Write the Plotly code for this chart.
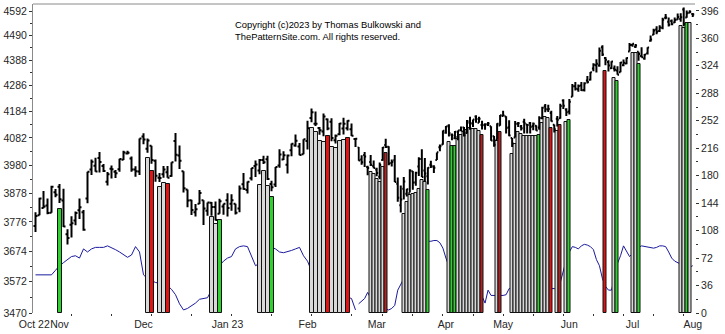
import numpy as np
import pandas as pd
import plotly.graph_objects as go

# NYSE sessions, 24 Oct 2022 .. 1 Aug 2023
holidays = pd.to_datetime(["2022-11-24", "2022-12-26", "2023-01-02", "2023-01-16",
                           "2023-02-20", "2023-04-07", "2023-05-29", "2023-06-19",
                           "2023-07-04"])
sessions = pd.bdate_range("2022-10-24", "2023-08-01")
sessions = sessions[~sessions.isin(holidays)]

# S&P 500 daily bars
open_ = [3762, 3799, 3825, 3834, 3808, 3881, 3901, 3852, 3733, 3766, 3781, 3817, 3810, 3859, 3964, 3978,
         4007, 3977, 3919, 3967, 3956, 3965, 4000, 4023, 4005, 3964, 3957, 4087, 4041, 4052, 3996, 3934,
         3947, 3954, 3940, 4070, 4016, 3958, 3891, 3853, 3810, 3840, 3853, 3815, 3844, 3829, 3805, 3830,
         3853, 3840, 3840, 3823, 3910, 3889, 3932, 3977, 3960, 3999, 4002, 3911, 3909, 3979, 4001, 3982,
         4036, 4053, 4050, 4021, 4070, 4158, 4136, 4120, 4106, 4153, 4144, 4073, 4096, 4118, 4119, 4115,
         4078, 4046, 4001, 4018, 3973, 3992, 3977,
         3964, 3938, 3999, 4055, 4049, 3988, 3998, 3912, 3835, 3894, 3876, 3878, 3958, 3917, 3975, 4003,
         3960, 3939, 3982, 3974, 3999, 4047, 4057, 4102, 4128, 4094, 4081, 4085, 4111, 4122, 4101, 4140,
         4137, 4164, 4140, 4131, 4132, 4133, 4126, 4088, 4075, 4129, 4166, 4164, 4123, 4082, 4084, 4136,
         4125, 4144, 4133, 4139, 4127, 4128, 4122, 4157, 4204, 4191, 4177, 4132, 4155, 4157, 4226, 4191,
         4183, 4241, 4282, 4271, 4285, 4268, 4305, 4308, 4354, 4367, 4366, 4440, 4396, 4380, 4355, 4354,
         4345, 4338, 4367, 4374, 4423, 4450, 4442, 4422, 4404, 4394, 4415, 4467, 4492, 4514, 4508, 4521,
         4563, 4546, 4550, 4543, 4556, 4558, 4598, 4565, 4585, 4579]
high = [3810, 3862, 3886, 3859, 3905, 3893, 3911, 3894, 3750, 3796, 3813, 3859, 3818, 3956, 4001, 4008,
        4029, 3984, 3955, 3979, 3962, 4004, 4034, 4034, 4012, 3976, 4080, 4100, 4080, 4052, 4001, 3951,
        3977, 3977, 3991, 4101, 4053, 3958, 3891, 3854, 3839, 3889, 3853, 3845, 3846, 3848, 3858, 3840,
        3878, 3874, 3840, 3906, 3951, 3920, 3970, 3997, 4003, 4015, 4015, 3923, 3973, 4039, 4032, 4020,
        4061, 4095, 4063, 4077, 4148, 4195, 4183, 4124, 4176, 4156, 4157, 4095, 4139, 4159, 4149, 4137,
        4081, 4048, 4017, 4029, 3978, 4018, 3997,
        3971, 3990, 4048, 4079, 4051, 4001, 4018, 3935, 3906, 3937, 3894, 3965, 3959, 3956, 4009, 4039,
        4007, 3972, 3996, 3980, 4027, 4057, 4110, 4127, 4134, 4099, 4108, 4110, 4125, 4124, 4150, 4163,
        4152, 4169, 4163, 4148, 4138, 4143, 4126, 4089, 4138, 4170, 4186, 4165, 4149, 4082, 4147, 4143,
        4131, 4155, 4133, 4143, 4141, 4130, 4165, 4202, 4212, 4210, 4186, 4133, 4166, 4213, 4231, 4196,
        4232, 4291, 4299, 4289, 4299, 4298, 4323, 4339, 4375, 4391, 4439, 4448, 4400, 4387, 4383, 4366,
        4363, 4380, 4390, 4398, 4458, 4456, 4454, 4422, 4440, 4412, 4440, 4489, 4517, 4528, 4532, 4563,
        4579, 4565, 4556, 4564, 4581, 4582, 4607, 4594, 4595, 4584]
low = [3741, 3799, 3824, 3803, 3808, 3863, 3843, 3758, 3698, 3722, 3764, 3786, 3745, 3842, 3944, 3956,
       3953, 3955, 3906, 3931, 3933, 3956, 3999, 4020, 3956, 3938, 3944, 4058, 4026, 3985, 3919, 3918,
       3934, 3934, 3938, 3994, 3966, 3880, 3828, 3800, 3795, 3839, 3765, 3798, 3798, 3781, 3805, 3801,
       3795, 3815, 3802, 3810, 3890, 3877, 3924, 3937, 3947, 3984, 3926, 3885, 3900, 3971, 3999, 3949,
       4013, 4049, 4017, 4021, 4038, 4142, 4127, 4094, 4088, 4111, 4069, 4061, 4092, 4095, 4110, 4089,
       4048, 3996, 3982, 3973, 3943, 3977, 3969,
       3939, 3928, 3996, 4044, 3980, 3975, 3918, 3847, 3809, 3855, 3866, 3880, 3890, 3905, 3940, 3937,
       3919, 3909, 3970, 3951, 3999, 4032, 4056, 4098, 4087, 4073, 4077, 4073, 4108, 4087, 4099, 4113,
       4124, 4140, 4140, 4114, 4113, 4127, 4071, 4049, 4075, 4128, 4164, 4099, 4088, 4048, 4084, 4124,
       4110, 4099, 4099, 4099, 4111, 4109, 4113, 4153, 4180, 4181, 4145, 4103, 4125, 4155, 4193, 4166,
       4172, 4241, 4266, 4261, 4264, 4262, 4293, 4305, 4342, 4337, 4361, 4404, 4367, 4341, 4352, 4341,
       4328, 4338, 4363, 4371, 4423, 4442, 4437, 4385, 4398, 4389, 4410, 4463, 4491, 4494, 4504, 4515,
       4557, 4527, 4532, 4541, 4555, 4547, 4528, 4563, 4582, 4567]
close = [3797, 3859, 3830, 3807, 3901, 3872, 3856, 3760, 3720, 3771, 3807, 3828, 3749, 3956, 3993, 3957,
         3992, 3959, 3947, 3965, 3950, 4003, 4027, 4026, 3964, 3958, 4080, 4076, 4072, 3999, 3941, 3933,
         3964, 3934, 3991, 4019, 3996, 3896, 3852, 3818, 3821, 3879, 3823, 3845, 3829, 3783, 3849, 3840,
         3825, 3853, 3808, 3895, 3893, 3919, 3970, 3983, 3999, 3991, 3929, 3899, 3973, 4020, 4017, 4016,
         4060, 4071, 4018, 4077, 4119, 4180, 4136, 4111, 4164, 4118, 4082, 4090, 4137, 4136, 4148, 4090,
         4079, 3997, 3991, 4012, 3970, 3982, 3970,
         3951, 3981, 4046, 4048, 3986, 3992, 3918, 3862, 3855, 3920, 3892, 3960, 3917, 3952, 4003, 3937,
         3949, 3971, 3978, 3971, 4028, 4051, 4109, 4125, 4101, 4091, 4105, 4110, 4109, 4092, 4146, 4138,
         4152, 4154, 4155, 4130, 4134, 4137, 4072, 4056, 4136, 4169, 4168, 4120, 4091, 4061, 4136, 4138,
         4119, 4138, 4131, 4124, 4136, 4110, 4158, 4198, 4192, 4193, 4146, 4115, 4151, 4205, 4206, 4180,
         4221, 4282, 4273, 4283, 4267, 4294, 4299, 4338, 4369, 4373, 4426, 4410, 4389, 4366, 4382, 4348,
         4328, 4378, 4377, 4396, 4450, 4455, 4447, 4412, 4399, 4410, 4439, 4472, 4510, 4505, 4522, 4555,
         4565, 4534, 4536, 4554, 4567, 4566, 4537, 4582, 4589, 4577]

# Oscillator plotted against the right-hand scale
osc = [50, 50, 50, 50, 50, 56, 62, 66, 70, 74, 75, 72, 84, 80, 84, 86,
       86, 86, 88, 86, 83, 80, 76, 73, 76, 87, 80, 50, 45, 42, 40, 39,
       38, 36, 31, 24, 12, 4, 6, 9, 13, 18, 19, 20, 30, 45, 62, 68,
       72, 74, 84, 87, 88, 87, 75, 62, 65, 72, 80, 86, 84, 80, 79, 80,
       82, 84, 86, 75, 68, 55, 45, 38, 33, 30, 28, 26, 25, 23, 20, 19,
       4,
       12, 15, 19, 27, 20, 12, 8, 7, 7, 6, 4, 6, 10, 30, 37,
       45, 55, 65, 75, 82, 88, 92, 94, 94,
       94, 95, 95, 92, 85, 72,
       60, 50, 42, 36, 32, 29, 27, 25, 24, 23, 22, 22,
       13, 30, 23, 23, 23, 23, 23, 24, 32,
       32, 32, 32, 32, 32, 32, 32, 32, 32, 32, 32, 32, 32, 32,
       32, 31,
       40, 55, 70, 80,
       87, 86, 84, 88, 90, 89, 87, 83, 70, 62, 45, 35, 30, 30, 45, 65, 75, 88, 80, 74,
       78, 82, 86,
       88, 87, 86, 86, 85, 86, 88, 88, 87, 80, 72, 68,
       66, 64, 62, 62, 60, 62]

# Highlighted sessions: date, top of the column, colour class
mark_dates = ["2022-11-01",
              "2022-12-02", "2022-12-05", "2022-12-07", "2022-12-08", "2022-12-09",
              "2022-12-27", "2022-12-28", "2022-12-29",
              "2023-01-13", "2023-01-17", "2023-01-18", "2023-01-19",
              "2023-02-02", "2023-02-03", "2023-02-06", "2023-02-07", "2023-02-08",
              "2023-02-09", "2023-02-10", "2023-02-13", "2023-02-14", "2023-02-15",
              "2023-02-27", "2023-02-28", "2023-03-01", "2023-03-02", "2023-03-03", "2023-03-06",
              "2023-03-14", "2023-03-15", "2023-03-16", "2023-03-17", "2023-03-20",
              "2023-03-21", "2023-03-22", "2023-03-23", "2023-03-24",
              "2023-04-04", "2023-04-05", "2023-04-06", "2023-04-10", "2023-04-11",
              "2023-04-12", "2023-04-13", "2023-04-14", "2023-04-17", "2023-04-18",
              "2023-04-19", "2023-04-20",
              "2023-04-27", "2023-04-28",
              "2023-05-04", "2023-05-05", "2023-05-08", "2023-05-09", "2023-05-10",
              "2023-05-11", "2023-05-12", "2023-05-15", "2023-05-16", "2023-05-17",
              "2023-05-18", "2023-05-19", "2023-05-22", "2023-05-23",
              "2023-05-25", "2023-05-26", "2023-05-31", "2023-06-01",
              "2023-06-20", "2023-06-23", "2023-06-26",
              "2023-07-03", "2023-07-05", "2023-07-06",
              "2023-07-26", "2023-07-27", "2023-07-28", "2023-07-31"]
mark_tops = [3823,
             4007, 3960, 3901, 3916, 3912,
             3792, 3770, 3782,
             3907, 3960, 3905, 3864,
             4119, 4103, 4070, 4066, 4089, 4047, 4044, 4070, 4074, 4081,
             3955, 3948, 3930, 3918, 3975, 4025,
             3805, 3847, 3870, 3876, 3880, 3894, 3924, 3918, 3888,
             4066, 4051, 4051, 4077, 4092, 4103, 4111, 4119, 4115, 4115, 4110, 4092,
             4071, 4103,
             4021, 4058, 4103, 4096, 4089, 4089, 4089, 4089, 4089, 4092,
             4140, 4161, 4157, 4119,
             4107, 4130, 4142, 4149,
             4345, 4317, 4305,
             4418, 4418, 4373,
             4529, 4521, 4541, 4541]
mark_kind = ["up",
             "flat", "down", "flat", "flat", "down",
             "flat", "flat", "up",
             "flat", "flat", "flat", "up",
             "flat", "flat", "flat", "flat", "down", "flat", "flat", "flat", "flat", "down",
             "flat", "flat", "flat", "flat", "flat", "weak",
             "flat", "flat", "flat", "flat", "flat", "flat", "flat", "flat", "up",
             "flat", "up", "up", "flat", "flat", "flat", "flat", "flat", "flat", "flat", "flat", "weak",
             "flat", "weak",
             "flat", "flat", "flat", "flat", "flat", "flat", "flat", "flat", "flat", "up",
             "flat", "flat", "flat", "down",
             "flat", "weak", "flat", "up",
             "down", "flat", "up",
             "flat", "flat", "up",
             "flat", "flat", "up", "flat"]

kind_colour = {"flat": "#d8d8d8", "up": "#2ed12e", "down": "#e01414", "weak": "#b22222"}

month_labels = ["Oct 22", "Nov", "Dec", "Jan 23", "Feb", "Mar", "Apr", "May", "Jun", "Jul", "Aug"]
month_dates = ["2022-10-24", "2022-11-01", "2022-12-01", "2023-01-03", "2023-02-01", "2023-03-01",
               "2023-04-03", "2023-05-01", "2023-06-01", "2023-07-03", "2023-08-01"]
price_ticks = [3470, 3572, 3674, 3776, 3878, 3980, 4082, 4184, 4286, 4388, 4490, 4592]
osc_ticks = [0, 36, 72, 108, 144, 180, 216, 252, 288, 324, 360, 396]

PRICE_FLOOR = 3470
PRICE_CEIL = 4622
OSC_CEIL = 405

n = len(sessions)
pos = np.arange(n)
# the time scale is wider before 21 Feb 2023 than after it
split = sessions.get_loc(pd.Timestamp("2023-02-21"))

mark_pos = np.array([sessions.get_loc(pd.Timestamp(d)) for d in mark_dates])
mark_tops = np.array(mark_tops, dtype=float)
mark_col = np.array([kind_colour[k] for k in mark_kind])
osc = np.array(osc, dtype=float)

fig = go.Figure()
segments = [(pos < split, "x"), (pos >= split, "x2")]
for keep, xa in segments:
    fig.add_trace(go.Scatter(x=pos[keep], y=osc[keep], xaxis=xa, yaxis="y",
                             mode="lines", line=dict(color="#1a1a9e", width=1),
                             hoverinfo="skip", showlegend=False))
for keep, xa in segments:
    m = (mark_pos < split) if xa == "x" else (mark_pos >= split)
    fig.add_trace(go.Bar(x=mark_pos[m], y=mark_tops[m] - PRICE_FLOOR, base=PRICE_FLOOR,
                         xaxis=xa, yaxis="y2", width=1.0,
                         marker=dict(color=list(mark_col[m]), line=dict(color="#111111", width=1)),
                         hoverinfo="skip", showlegend=False))
    fig.add_trace(go.Ohlc(x=pos[keep],
                          open=np.array(open_)[keep], high=np.array(high)[keep],
                          low=np.array(low)[keep], close=np.array(close)[keep],
                          xaxis=xa, yaxis="y2", tickwidth=0.5,
                          increasing=dict(line=dict(color="black", width=2)),
                          decreasing=dict(line=dict(color="black", width=2)),
                          hoverinfo="skip", showlegend=False))

label_pos = [float(sessions.get_loc(pd.Timestamp(d))) for d in month_dates]
label_pos[0] = -0.3  # the year label sits at the very start of the axis
tick_every = list(range(9, n, 10))
font = dict(family="Liberation Sans, Arial, sans-serif", size=10.5, color="#262626")

split_frac = 0.4902
common_x = dict(showgrid=False, zeroline=False, showline=False, ticks="", tickangle=0,
                ticklabelstandoff=3,
                tickfont=font, rangeslider=dict(visible=False), fixedrange=True)
fig.update_layout(
    width=725, height=334,
    margin=dict(l=33, r=30, t=4, b=19),
    paper_bgcolor="white", plot_bgcolor="white",
    bargap=0, barmode="overlay",
    xaxis=dict(domain=[0, split_frac], range=[-0.625, split - 0.5], anchor="y",
               tickmode="array",
               tickvals=[p for p in label_pos if p < split],
               ticktext=[t for p, t in zip(label_pos, month_labels) if p < split],
               minor=dict(tickmode="array", tickvals=[t for t in tick_every if t < split],
                          ticks="outside", ticklen=2, tickcolor="#333"),
               **common_x),
    xaxis2=dict(domain=[split_frac, 1], range=[split - 0.37, n - 0.25], anchor="y",
                tickmode="array",
                tickvals=[p for p in label_pos if p >= split],
                ticktext=[t for p, t in zip(label_pos, month_labels) if p >= split],
                minor=dict(tickmode="array", tickvals=[t for t in tick_every if t >= split],
                           ticks="outside", ticklen=2, tickcolor="#333"),
                **common_x),
    yaxis=dict(side="right", anchor="x2", range=[0, OSC_CEIL], tickmode="array",
               tickvals=osc_ticks, ticks="outside", ticklen=3, tickcolor="#333",
               minor=dict(tickmode="array", tickvals=[t + 18 for t in osc_ticks[:-1]],
                          ticks="outside", ticklen=2, tickcolor="#333"),
               showgrid=False, zeroline=False, showline=False, tickfont=font, fixedrange=True),
    yaxis2=dict(overlaying="y", side="left", anchor="x", type="log",
                range=[np.log10(PRICE_FLOOR), np.log10(PRICE_CEIL)],
                tickmode="array", tickvals=price_ticks, ticktext=[str(t) for t in price_ticks],
                ticks="outside", ticklen=3, tickcolor="#333",
                minor=dict(tickmode="array",
                           tickvals=[(a + b) / 2 for a, b in zip(price_ticks[:-1], price_ticks[1:])],
                           ticks="outside", ticklen=2, tickcolor="#333"),
                showline=True, linecolor="#8a8a8a", linewidth=1,
                showgrid=False, zeroline=False, tickfont=font, fixedrange=True),
    shapes=[dict(type="line", xref="paper", yref="paper", x0=0, x1=1, y0=1, y1=1,
                 line=dict(color="#8a8a8a", width=1))],
    annotations=[dict(xref="paper", yref="paper", x=0.302, y=0.957, xanchor="left", yanchor="top",
                      align="left", showarrow=False,
                      text="Copyright (c)2023 by Thomas Bulkowski and<br>ThePatternSite.com. All rights reserved.",
                      font=dict(family="Liberation Sans, Arial, sans-serif", size=9.4, color="black"))],
)

fig.write_html("out.html")
